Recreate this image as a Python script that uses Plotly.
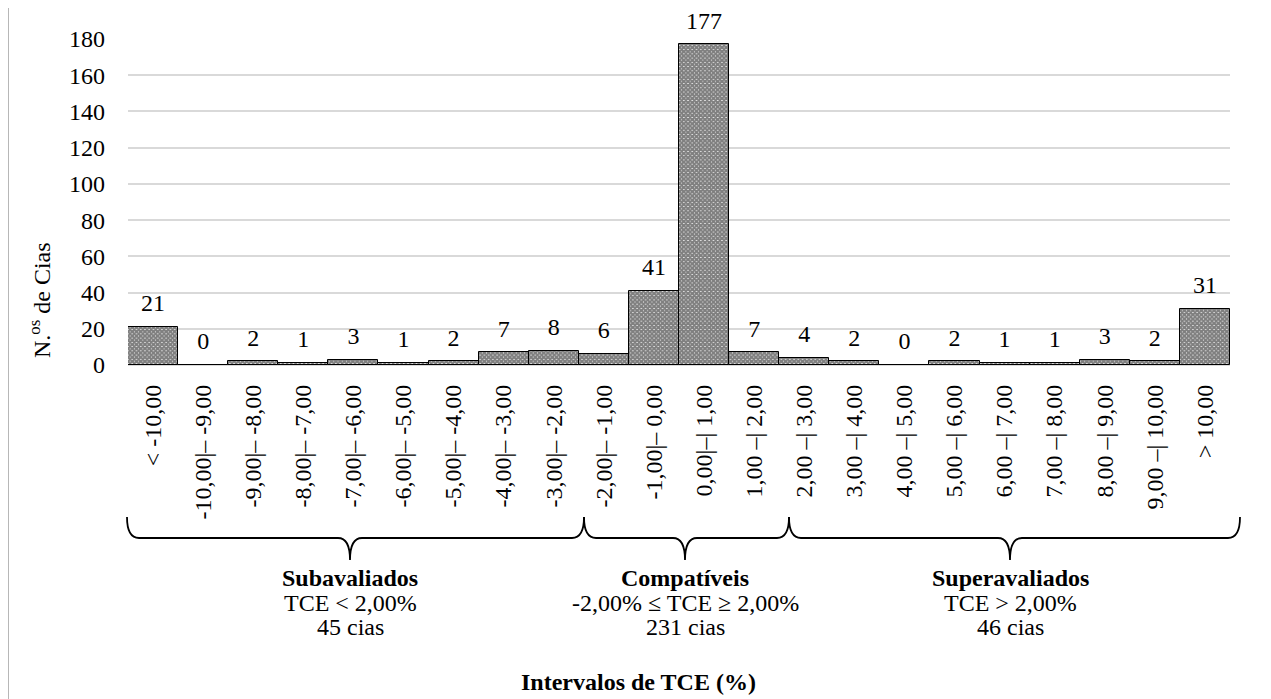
import plotly.graph_objects as go

categories = ["< -10,00", "-10,00|– -9,00", "-9,00|– -8,00", "-8,00|– -7,00", "-7,00|– -6,00",
              "-6,00|– -5,00", "-5,00|– -4,00", "-4,00|– -3,00", "-3,00|– -2,00", "-2,00|– -1,00",
              "-1,00|– 0,00", "0,00|–| 1,00", "1,00 –| 2,00", "2,00 –| 3,00", "3,00 –| 4,00",
              "4,00 –| 5,00", "5,00 –| 6,00", "6,00 –| 7,00", "7,00 –| 8,00", "8,00 –| 9,00",
              "9,00 –| 10,00", "> 10,00"]
counts = [21, 0, 2, 1, 3, 1, 2, 7, 8, 6, 41, 177, 7, 4, 2, 0, 2, 1, 1, 3, 2, 31]
y_ticks = [0, 20, 40, 60, 80, 100, 120, 140, 160, 180]

groups = [
    ("Subavaliados", "TCE < 2,00%", "45 cias"),
    ("Compatíveis", "-2,00% ≤ TCE ≥ 2,00%", "231 cias"),
    ("Superavaliados", "TCE > 2,00%", "46 cias"),
]

FONT = "Liberation Serif"
FS = 24
W, H = 1271, 699
OFF = 8  # page body margin offset
L, R, T, B = 128, 1230, 39, 365  # plot area in screen pixels


def px(x):
    return (x - L) / (R - L)


def py(y):
    return (B - y) / (B - T)


fig = go.Figure()
fig.add_trace(go.Bar(
    x=categories, y=counts,
    marker=dict(color="white", line=dict(color="black", width=1),
                pattern=dict(shape="x", size=3, solidity=0.9, fgcolor="black", bgcolor="white")),
    hoverinfo="skip",
))
fig.add_trace(go.Scatter(
    x=categories, y=counts, mode="markers+text",
    text=[str(v) for v in counts], textposition="top center",
    textfont=dict(family=FONT, size=FS, color="black"),
    marker=dict(size=14, color="rgba(0,0,0,0)"),
    cliponaxis=False, hoverinfo="skip",
))

shapes = []
shapes.append(dict(type="rect", xref="paper", yref="paper",
                   x0=px(8), x1=px(1266), y0=py(720), y1=py(6),
                   line=dict(color="#707070", width=1), layer="below"))

braces = [(127, 350, 584), (584, 685, 789), (789, 1010, 1240)]
yt, yl, yb = 517, 538, 560
for x0, xm, x1 in braces:
    r = 6
    path = (f"M {px(x0)},{py(yt)} "
            f"Q {px(x0)},{py(yl)} {px(x0 + r * 2)},{py(yl)} "
            f"L {px(xm - r * 2)},{py(yl)} "
            f"Q {px(xm)},{py(yl)} {px(xm)},{py(yb)} "
            f"Q {px(xm)},{py(yl)} {px(xm + r * 2)},{py(yl)} "
            f"L {px(x1 - r * 2)},{py(yl)} "
            f"Q {px(x1)},{py(yl)} {px(x1)},{py(yt)}")
    shapes.append(dict(type="path", xref="paper", yref="paper", path=path,
                       line=dict(color="black", width=1.8)))

annotations = []
for (title, cond, n), (x0, xm, x1) in zip(groups, braces):
    for txt, yy in ((f"<b>{title}</b>", 578), (cond, 603), (n, 627)):
        annotations.append(dict(xref="paper", yref="paper", x=px(xm), y=py(yy),
                                text=txt, showarrow=False,
                                font=dict(family=FONT, size=FS, color="black"),
                                xanchor="center", yanchor="middle"))

annotations.append(dict(xref="paper", yref="paper", x=px(638), y=py(682),
                        text="<b>Intervalos de TCE (%)</b>", showarrow=False,
                        font=dict(family=FONT, size=FS, color="black"),
                        xanchor="center", yanchor="middle"))
annotations.append(dict(xref="paper", yref="paper", x=px(40), y=py(300),
                        text="N.<sup>os</sup> de Cias", showarrow=False, textangle=-90,
                        font=dict(family=FONT, size=FS, color="black"),
                        xanchor="center", yanchor="middle"))

fig.update_layout(
    width=W, height=H,
    margin=dict(l=L - OFF, r=W - (R - OFF), t=T - OFF, b=H - (B - OFF), autoexpand=False),
    paper_bgcolor="white", plot_bgcolor="white",
    bargap=0, showlegend=False,
    font=dict(family=FONT, size=FS, color="black"),
    shapes=shapes, annotations=annotations,
    xaxis=dict(type="category", range=[-0.5, len(categories) - 0.5], tickangle=-90,
               showgrid=False, showline=False, ticks="", ticklabelstandoff=14,
               automargin=False, tickfont=dict(family=FONT, size=FS, color="black")),
    yaxis=dict(range=[0, 180], tickvals=y_ticks, showgrid=True, gridcolor="#d9d9d9",
               gridwidth=1.5, zeroline=True, zerolinecolor="#d9d9d9", zerolinewidth=1.5,
               showline=False, ticks="", ticklabelstandoff=22, automargin=False,
               tickfont=dict(family=FONT, size=FS, color="black")),
)

fig.write_html("out.html")
